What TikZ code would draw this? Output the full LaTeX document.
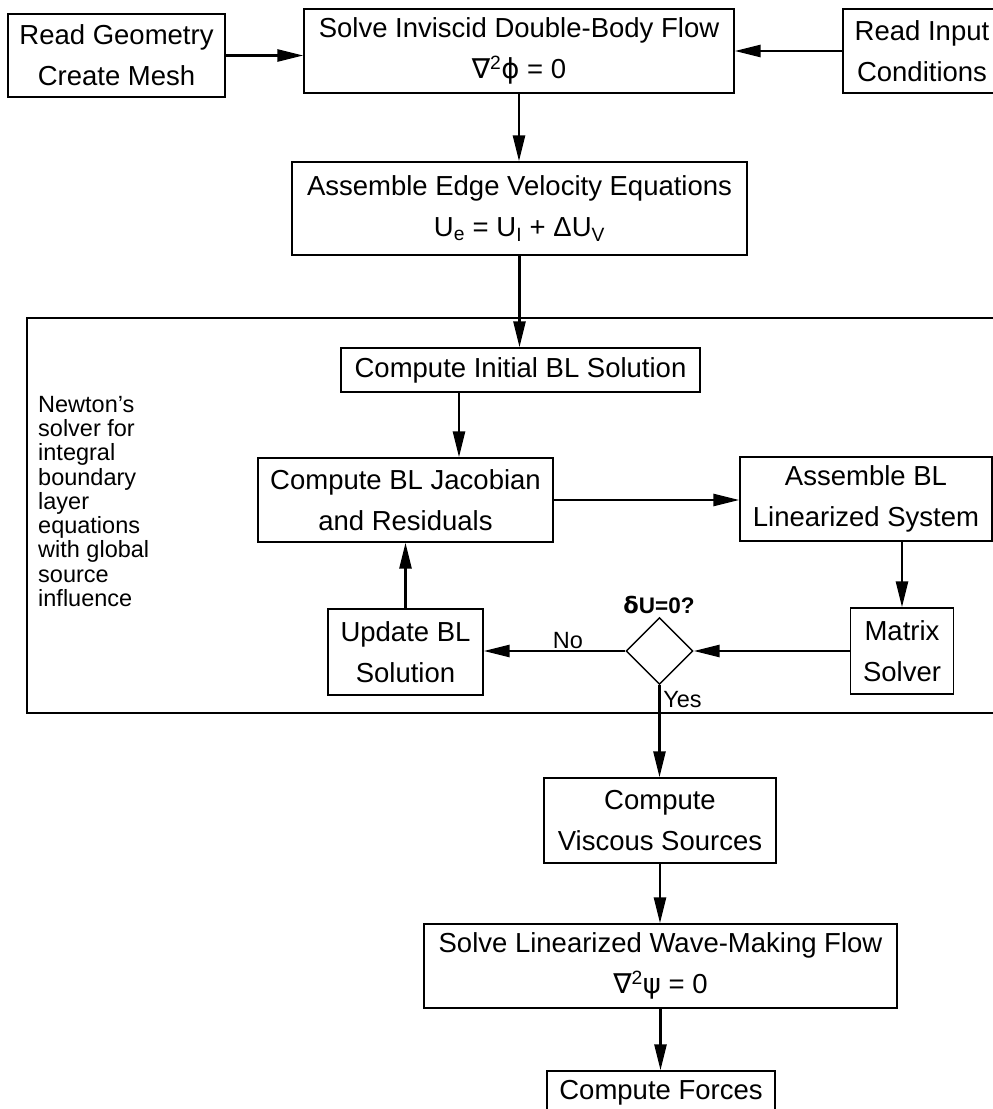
\documentclass[tikz,border=0pt]{standalone}
\usepackage{fontspec}
\setmainfont{Liberation Sans}
\newfontfamily\symf{DejaVu Sans}
\usetikzlibrary{arrows.meta,shapes.geometric,calc}
\begin{document}
\begin{tikzpicture}[x=1pt,y=-1pt,
  box/.style={draw, line width=1.4pt, inner sep=0pt, align=center,
    font=\fontsize{27.5}{41}\selectfont},
  arr/.style={line width=2.6pt, -{Triangle[length=26pt,width=12pt]}},
  lbl/.style={font=\fontsize{23.5}{24.25}\selectfont, inner sep=0pt},
  dec/.style={draw, diamond, aspect=1, line width=1.4pt, inner sep=0pt,
    minimum width=67pt, minimum height=67pt}]
\useasboundingbox (0,0) rectangle (993,1109);
\clip (0,0) rectangle (993,1109);
\fill[white] (0,0) rectangle (993,1109);

% outer frame of the Newton solver
\node[draw, line width=1.6pt, inner sep=0pt, anchor=north west,
  minimum width=985pt, minimum height=395pt] (newton) at (26,317) {};
\node[lbl, align=left, anchor=north west] (side) at (38,396)
  {Newton’s\\solver for\\integral\\boundary\\layer\\equations\\with global\\source\\influence};

% top row
\node[box, minimum width=217pt, minimum height=83pt] (geom) at (116.5,55.5)
  {Read Geometry\\Create Mesh};
\node[box, minimum width=430pt, minimum height=84pt] (solve) at (519,51)
  {Solve Inviscid Double-Body Flow\\{\symf ∇}\textsuperscript{2}{\symf ϕ} = 0};
\node[box, minimum width=158pt, minimum height=84pt] (input) at (922,51)
  {Read Input\\Conditions};
\node[box, minimum width=455pt, minimum height=93pt] (edge) at (519.5,208.5)
  {Assemble Edge Velocity Equations\\U\textsubscript{e} = U\textsubscript{I} + ΔU\textsubscript{V}};

% Newton loop
\node[box, minimum width=359pt, minimum height=44pt] (init) at (520.5,370)
  {Compute Initial BL Solution};
\node[box, minimum width=295pt, minimum height=84pt] (jac) at (405.5,500)
  {Compute BL Jacobian\\and Residuals};
\node[box, minimum width=252pt, minimum height=84pt] (asmbl) at (866,499)
  {Assemble BL\\Linearized System};
\node[box, minimum width=155pt, minimum height=86pt] (upd) at (405.5,652)
  {Update BL\\Solution};
\node[dec] (dia) at (659.5,651) {};
\node[box, minimum width=103pt, minimum height=86pt] (matrix) at (902,651)
  {Matrix\\Solver};
\node[lbl, font=\fontsize{22.5}{24}\selectfont\bfseries, anchor=base] (q) at (659,613)
  {{\symf δ}U=0?};
\node[lbl, anchor=base] (no) at (568,648) {No};
\node[lbl, anchor=base] (yes) at (682.5,707) {Yes};

% lower part
\node[box, minimum width=232pt, minimum height=85pt] (visc) at (660,820.5)
  {Compute\\Viscous Sources};
\node[box, minimum width=473pt, minimum height=84pt] (lin) at (660.5,966)
  {Solve Linearized Wave-Making Flow\\{\symf ∇}\textsuperscript{2}{\symf ψ} = 0};
\node[box, minimum width=228pt, minimum height=44pt] (forces) at (661,1093)
  {Compute Forces};

\coordinate (jacin) at ($(jac.north)+(53.5,0)$);

% connectors
\draw[arr] (geom.east) -- (geom.east -| solve.west);
\draw[arr] (input.west) -- (input.west -| solve.east);
\draw[arr] (solve.south) -- (solve.south |- edge.north);
\draw[arr] (edge.south) -- (edge.south |- init.north);
\draw[arr] (jacin |- init.south) -- (jacin);
\draw[arr] (jac.east) -- (jac.east -| asmbl.west);
\draw[arr] (asmbl.south -| matrix.north) -- (matrix.north);
\draw[arr] (matrix.west) -- (matrix.west -| dia.east);
\draw[arr] (dia.west) -- (dia.west -| upd.east);
\draw[arr] (upd.north) -- (upd.north |- jac.south);
\draw[arr] (dia.south) -- (dia.south |- visc.north);
\draw[arr] (visc.south) -- (visc.south |- lin.north);
\draw[arr] (lin.south) -- (lin.south |- forces.north);
\end{tikzpicture}
\end{document}
